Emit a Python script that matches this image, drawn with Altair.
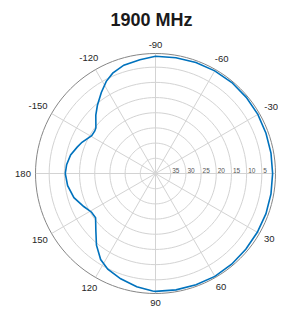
import altair as alt
import numpy as np
import pandas as pd

TITLE = "1900 MHz"
R_CENTER = 40.0   # radial value at the centre (axis reversed)
R_EDGE = 0.5      # radial value at the outer circle
SIZE = 240        # plot square in px
SPAN = R_CENTER - R_EDGE
PX = SIZE / (2 * SPAN)

ring_values = [35, 30, 25, 20, 15, 10, 5]
spoke_angles = [0, 30, 60, 90, 120, 150, 180, 210, 240, 270, 300, 330]
angle_labels = [-150, -120, -90, -60, -30, 30, 60, 90, 120, 150, 180]

pattern_angle = [-180, -174.4, -167.7, -161.4, -157, -149.4, -145, -142.6, -138.8, -135.6,
                 -130.4, -123.75, -118.1, -113.1, -106.3, -97.8, -90, -80, -70, -60, -50,
                 -40, -30, -20, -10, 0, 10, 20, 30, 40, 50, 60, 70, 80, 90, 91.4, 99.4,
                 108.3, 116.5, 122.5, 129.5, 136.2, 143.6, 148.8, 155.3, 163.5, 172.1, 180]
pattern_value = [10.3, 10.6, 11.4, 12.8, 13.7, 15.6, 15.6, 15.3, 13.9, 12.5,
                 10.5, 7.9, 5.6, 4.1, 2.85, 2.2, 1.4, 1.3, 1.1, 1.0, 0.9,
                 1.0, 1.1, 1.3, 1.4, 1.45, 1.4, 1.3, 1.3, 1.2, 1.0, 0.9, 1.0, 1.1, 1.2, 1.3, 2.2,
                 3.5, 4.8, 6.4, 9.45, 12.8, 15.5, 15.4, 14.0, 12.0, 10.8, 10.3]

circle_steps = list(range(0, 361, 3))

rings_df = pd.DataFrame([(v, a) for v in ring_values for a in circle_steps], columns=["v", "a"])
outer_df = pd.DataFrame({"v": [R_EDGE] * len(circle_steps), "a": circle_steps})
spokes_df = pd.DataFrame({"a": spoke_angles})
labels_df = pd.DataFrame({"a": angle_labels, "t": [str(a) for a in angle_labels]})
rlabels_df = pd.DataFrame({"v": ring_values, "t": [str(v) for v in ring_values]})
pattern_df = pd.DataFrame({"a": pattern_angle, "v": pattern_value, "i": range(len(pattern_angle))})

xs = alt.Scale(domain=[-SPAN, SPAN], nice=False, zero=False)
ys = alt.Scale(domain=[-SPAN, SPAN], nice=False, zero=False)


def polar(ch):
    return ch.transform_calculate(
        rho=f"{R_CENTER} - datum.v",
    ).transform_calculate(
        px="datum.rho * cos(datum.a * PI / 180)",
        py="-datum.rho * sin(datum.a * PI / 180)",
    )


rings = polar(alt.Chart(rings_df).mark_line(color="#d3d3d3", strokeWidth=1)).encode(
    x=alt.X("px:Q", scale=xs, axis=None),
    y=alt.Y("py:Q", scale=ys, axis=None),
    detail="v:N",
    order="a:Q",
)

spokes = alt.Chart(spokes_df).mark_rule(color="#d3d3d3", strokeWidth=1).transform_calculate(
    x0="0", y0="0",
    x1=f"{SPAN} * cos(datum.a * PI / 180)",
    y1=f"-{SPAN} * sin(datum.a * PI / 180)",
).encode(
    x=alt.X("x0:Q", scale=xs, axis=None),
    y=alt.Y("y0:Q", scale=ys, axis=None),
    x2="x1:Q",
    y2="y1:Q",
)

outer = polar(alt.Chart(outer_df).mark_line(color="#868686", strokeWidth=1)).encode(
    x=alt.X("px:Q", scale=xs, axis=None),
    y=alt.Y("py:Q", scale=ys, axis=None),
    order="a:Q",
)

pattern = polar(alt.Chart(pattern_df).mark_line(color="#0072BD", strokeWidth=1.6)).encode(
    x=alt.X("px:Q", scale=xs, axis=None),
    y=alt.Y("py:Q", scale=ys, axis=None),
    order="i:Q",
)

angle_text = alt.Chart(labels_df).mark_text(
    font="Liberation Sans", fontSize=9.5, color="#262626", align="center", baseline="middle"
).transform_calculate(
    rr=f"{SPAN} + (5 + 0.5 * length(datum.t) * 5 * abs(cos(datum.a * PI / 180)) + 4 * abs(sin(datum.a * PI / 180))) / {PX}",
).transform_calculate(
    lx="datum.rr * cos(datum.a * PI / 180)",
    ly="-datum.rr * sin(datum.a * PI / 180)",
).encode(
    x=alt.X("lx:Q", scale=xs, axis=None),
    y=alt.Y("ly:Q", scale=ys, axis=None),
    text="t:N",
)

radial_text = alt.Chart(rlabels_df).mark_text(
    font="Liberation Sans", fontSize=6.5, color="#555555", align="left", baseline="bottom", dx=1.5, dy=0.5
).transform_calculate(
    lx=f"{R_CENTER} - datum.v", ly="0",
).encode(
    x=alt.X("lx:Q", scale=xs, axis=None),
    y=alt.Y("ly:Q", scale=ys, axis=None),
    text="t:N",
)

chart = alt.layer(rings, spokes, outer, pattern, radial_text, angle_text).properties(
    width=SIZE,
    height=SIZE,
    autosize=alt.AutoSizeParams(type="none"),
    padding={"left": 27.5, "top": 45.5, "right": 2.5, "bottom": 13.5},
    title=alt.TitleParams(
        TITLE, font="Liberation Sans", fontSize=18, fontWeight="bold", color="#1a1a1a",
        anchor="middle", frame="group", baseline="alphabetic", offset=4, dx=-4, dy=8,
    ),
).configure_view(stroke=None)

chart.save("out.html", embed_options={"renderer": "svg", "actions": False})
